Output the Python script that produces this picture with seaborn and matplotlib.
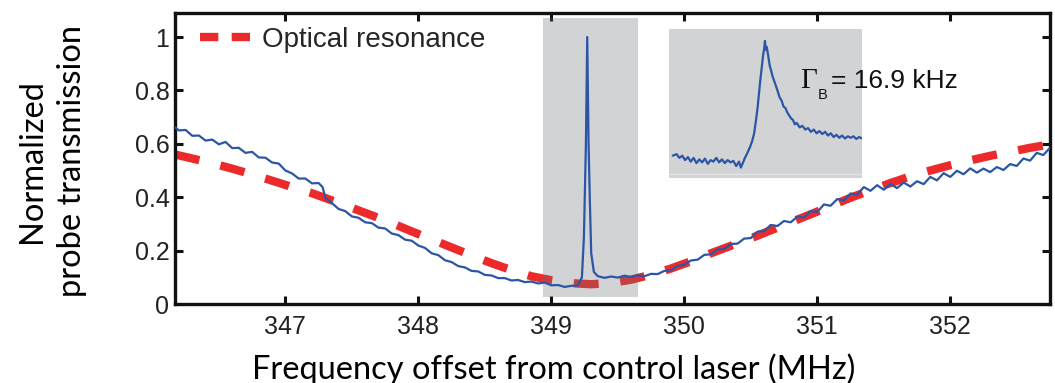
import numpy as np
import pandas as pd
import matplotlib
matplotlib.use("Agg")
import matplotlib.pyplot as plt
from matplotlib.lines import Line2D
from matplotlib.patches import Rectangle
import seaborn as sns

# ---------------- data ----------------
# probe transmission trace (frequency offset in MHz, normalized transmission)
probe_freq = [
    346.17, 346.20, 346.25, 346.30, 346.35, 346.40, 346.45, 346.50, 346.55, 346.60,
    346.65, 346.70, 346.75, 346.80, 346.85, 346.90, 346.95, 347.00, 347.05, 347.10,
    347.15, 347.20, 347.25, 347.28, 347.30, 347.35, 347.40, 347.45, 347.50, 347.55,
    347.60, 347.65, 347.70, 347.75, 347.80, 347.85, 347.90, 347.95, 348.00, 348.05,
    348.10, 348.15, 348.20, 348.25, 348.30, 348.35, 348.40, 348.45, 348.50, 348.55,
    348.60, 348.65, 348.70, 348.75, 348.80, 348.85, 348.90, 348.95, 349.00, 349.05,
    349.10, 349.15, 349.20, 349.23, 349.245, 349.26, 349.27, 349.28, 349.29, 349.30,
    349.32, 349.35, 349.40, 349.45, 349.50, 349.55, 349.60, 349.65, 349.70, 349.75,
    349.80, 349.85, 349.90, 349.95, 350.00, 350.05, 350.10, 350.15, 350.20, 350.25,
    350.30, 350.35, 350.40, 350.45, 350.50, 350.55, 350.60, 350.65, 350.70, 350.75,
    350.80, 350.85, 350.90, 350.95, 351.00, 351.05, 351.10, 351.15, 351.20, 351.25,
    351.30, 351.35, 351.40, 351.45, 351.50, 351.55, 351.60, 351.65, 351.70, 351.75,
    351.80, 351.85, 351.90, 351.95, 352.00, 352.05, 352.10, 352.15, 352.20, 352.25,
    352.30, 352.35, 352.40, 352.45, 352.50, 352.55, 352.60, 352.65, 352.70, 352.75,
]
probe_trans = [
    0.662, 0.650, 0.652, 0.630, 0.631, 0.612, 0.616, 0.598, 0.607, 0.584,
    0.585, 0.566, 0.570, 0.549, 0.548, 0.530, 0.526, 0.500, 0.489, 0.470,
    0.470, 0.452, 0.453, 0.438, 0.398, 0.378, 0.356, 0.348, 0.328, 0.323,
    0.306, 0.303, 0.286, 0.283, 0.264, 0.258, 0.241, 0.237, 0.219, 0.210,
    0.190, 0.183, 0.164, 0.157, 0.142, 0.137, 0.124, 0.122, 0.109, 0.107,
    0.097, 0.097, 0.088, 0.090, 0.082, 0.084, 0.077, 0.080, 0.070, 0.071,
    0.064, 0.068, 0.070, 0.100, 0.250, 0.600, 1.000, 0.600, 0.380, 0.190,
    0.120, 0.104, 0.098, 0.103, 0.099, 0.106, 0.101, 0.108, 0.104, 0.113,
    0.112, 0.124, 0.127, 0.143, 0.147, 0.163, 0.166, 0.184, 0.186, 0.204,
    0.206, 0.225, 0.226, 0.245, 0.247, 0.271, 0.273, 0.296, 0.292, 0.311,
    0.306, 0.327, 0.324, 0.348, 0.345, 0.373, 0.368, 0.393, 0.388, 0.414,
    0.410, 0.438, 0.424, 0.445, 0.428, 0.450, 0.434, 0.455, 0.440, 0.460,
    0.449, 0.476, 0.463, 0.490, 0.476, 0.499, 0.486, 0.508, 0.492, 0.507,
    0.494, 0.513, 0.502, 0.524, 0.517, 0.545, 0.537, 0.566, 0.558, 0.585,
]

# optical resonance fit
res_freq = [
    346.17, 346.30, 346.45, 346.60, 346.75, 346.90, 347.05, 347.20, 347.35, 347.50,
    347.65, 347.80, 347.95, 348.10, 348.25, 348.40, 348.55, 348.70, 348.85, 349.00,
    349.15, 349.30, 349.45, 349.60, 349.75, 349.90, 350.05, 350.20, 350.35, 350.50,
    350.65, 350.80, 350.95, 351.10, 351.25, 351.40, 351.55, 351.70, 351.85, 352.00,
    352.15, 352.30, 352.45, 352.60, 352.75,
]
res_trans = [
    0.560, 0.545, 0.527, 0.507, 0.485, 0.462, 0.438, 0.415, 0.388, 0.360,
    0.332, 0.303, 0.272, 0.242, 0.212, 0.182, 0.153, 0.127, 0.104, 0.089,
    0.078, 0.074, 0.079, 0.091, 0.110, 0.133, 0.160, 0.190, 0.218, 0.246,
    0.276, 0.306, 0.336, 0.367, 0.398, 0.426, 0.453, 0.478, 0.500, 0.520,
    0.538, 0.555, 0.570, 0.585, 0.598,
]

# Brillouin line, zoomed (relative detuning, relative transmission)
zoom_detuning = [
    0.000, 0.020, 0.035, 0.050, 0.065, 0.080, 0.095, 0.110, 0.125, 0.140,
    0.155, 0.170, 0.185, 0.200, 0.215, 0.230, 0.245, 0.260, 0.275, 0.290,
    0.305, 0.320, 0.335, 0.350, 0.360, 0.370, 0.383, 0.395, 0.409, 0.420,
    0.430, 0.440, 0.448, 0.455, 0.462, 0.470, 0.477, 0.483, 0.487, 0.492,
    0.497, 0.503, 0.508, 0.513, 0.520, 0.528, 0.539, 0.550, 0.565, 0.575,
    0.585, 0.595, 0.605, 0.615, 0.625, 0.635, 0.645, 0.655, 0.670, 0.685,
    0.700, 0.715, 0.730, 0.745, 0.760, 0.775, 0.790, 0.805, 0.820, 0.835,
    0.850, 0.865, 0.880, 0.895, 0.910, 0.925, 0.940, 0.955, 0.970, 0.985,
    1.000,
]
zoom_trans = [
    0.150, 0.160, 0.135, 0.150, 0.120, 0.140, 0.110, 0.135, 0.100, 0.125,
    0.105, 0.130, 0.095, 0.120, 0.110, 0.135, 0.105, 0.125, 0.100, 0.120,
    0.105, 0.115, 0.080, 0.110, 0.070, 0.100, 0.140, 0.170, 0.210, 0.250,
    0.300, 0.390, 0.470, 0.560, 0.650, 0.740, 0.820, 0.870, 0.920, 0.860,
    0.880, 0.830, 0.790, 0.750, 0.720, 0.680, 0.640, 0.600, 0.540, 0.520,
    0.480, 0.470, 0.440, 0.420, 0.400, 0.390, 0.360, 0.370, 0.340, 0.350,
    0.325, 0.335, 0.310, 0.325, 0.300, 0.315, 0.295, 0.310, 0.285, 0.300,
    0.275, 0.290, 0.270, 0.285, 0.265, 0.280, 0.270, 0.280, 0.262, 0.275,
    0.265,
]

x_ticks = [347, 348, 349, 350, 351, 352]
y_ticks = [0, 0.2, 0.4, 0.6, 0.8, 1.0]
y_tick_labels = ["0", "0.2", "0.4", "0.6", "0.8", "1"]

# highlighted Brillouin window
band_lo, band_hi = 348.94, 349.65
band_bottom, band_top = 0.026, 1.07

BLUE = "#2B56A6"
RED = "#EC2A2B"
PANEL_GRAY = "#D2D3D5"

# ---------------- figure ----------------
sns.set_theme(style="ticks")
plt.rcParams["font.family"] = ["Liberation Sans", "DejaVu Sans"]
plt.rcParams["lines.solid_joinstyle"] = "round"

W, H = 1055, 383
fig = plt.figure(figsize=(W / 100, H / 100), dpi=100)
fig.patch.set_facecolor("white")


def fpx(x, y):
    """figure-fraction coordinates from pixel position (origin top-left)"""
    return x / W, 1 - y / H


ax = fig.add_axes([175 / W, 1 - 304 / H, 875 / W, 291 / H])
ax.set_facecolor("white")

probe_df = pd.DataFrame({"freq": probe_freq, "trans": probe_trans})
res_df = pd.DataFrame({"freq": res_freq, "trans": res_trans})

sns.lineplot(data=res_df, x="freq", y="trans", ax=ax, color=RED, lw=6,
             estimator=None, sort=False, zorder=2)
res_line = ax.lines[-1]
res_line.set_dashes([3.0, 2.6])
res_line.set_dash_capstyle("butt")

# translucent gray window over the fit curve
ax.add_patch(Rectangle((band_lo, band_bottom), band_hi - band_lo, band_top - band_bottom,
                       facecolor="#6C7076", alpha=0.3, edgecolor="none", zorder=2.5))

sns.lineplot(data=probe_df, x="freq", y="trans", ax=ax, color=BLUE, lw=1.6,
             estimator=None, sort=False, zorder=3)

ax.set_xlim(346.17, 352.75)
ax.set_ylim(0, 1.09)
ax.set_xticks(x_ticks)
ax.set_xticklabels([str(t) for t in x_ticks])
ax.set_yticks(y_ticks)
ax.set_yticklabels(y_tick_labels)

for s in ax.spines.values():
    s.set_visible(True)
    s.set_linewidth(2.4)
    s.set_color("#111111")

ax.tick_params(axis="both", which="major", direction="in", length=6, width=2.2,
               color="#111111", labelcolor="#222222", labelsize=18,
               top=True, right=True)
ax.tick_params(axis="x", pad=8)
ax.tick_params(axis="y", pad=4)

label_font = dict(family=["Lato", "DejaVu Sans"], size=23.5, color="black")
ax.set_xlabel("Frequency offset from control laser (MHz)", **label_font)
ax.xaxis.label.set_verticalalignment("baseline")
ax.xaxis.set_label_coords((554 - 175) / 875, (304 - 379) / 291)

ax.set_ylabel("Normalized\nprobe transmission", linespacing=1.4, **label_font)
ax.yaxis.label.set_verticalalignment("center")
ax.yaxis.set_label_coords((52 - 175) / 875, 0.49)

legend_handle = Line2D([], [], color=RED, lw=6, dashes=(2.2, 1.6),
                       dash_capstyle="butt", label="Optical resonance")
ax.legend(handles=[legend_handle], loc="upper left", frameon=False,
          bbox_to_anchor=((200 - 175) / 875, (304 - 27) / 291),
          borderaxespad=0, borderpad=0, handlelength=1.9, handletextpad=0.33,
          prop={"family": "Liberation Sans", "size": 20})

# inset with the zoomed Brillouin line
ix0, iy0 = fpx(669, 178)
iax = fig.add_axes([ix0, iy0, 193 / W, 149 / H])
iax.set_facecolor(PANEL_GRAY)
sns.lineplot(x=zoom_detuning, y=zoom_trans, ax=iax, color=BLUE, lw=1.6,
             estimator=None, sort=False)
iax.axhline(0.03, color="#E4E5E7", lw=1.0, zorder=1)
iax.set_xlim(-0.02, 1.0)
iax.set_ylim(0, 1)
iax.set_xticks([])
iax.set_yticks([])
iax.set_xlabel("")
iax.set_ylabel("")
for s in iax.spines.values():
    s.set_visible(False)

# linewidth annotation
fig.text(*fpx(800, 88), "\u0393", family=["Liberation Serif", "DejaVu Serif"],
         size=21, color="#111111", ha="left", va="baseline", zorder=10)
fig.text(*fpx(818, 99), "B", family="Liberation Sans", size=10.5,
         color="#111111", ha="left", va="baseline", zorder=10)
fig.text(*fpx(831, 88), "= 16.9 kHz", family="Liberation Sans", size=19,
         color="#111111", ha="left", va="baseline", zorder=10)

fig.savefig("out.png", dpi=100, facecolor="white")
